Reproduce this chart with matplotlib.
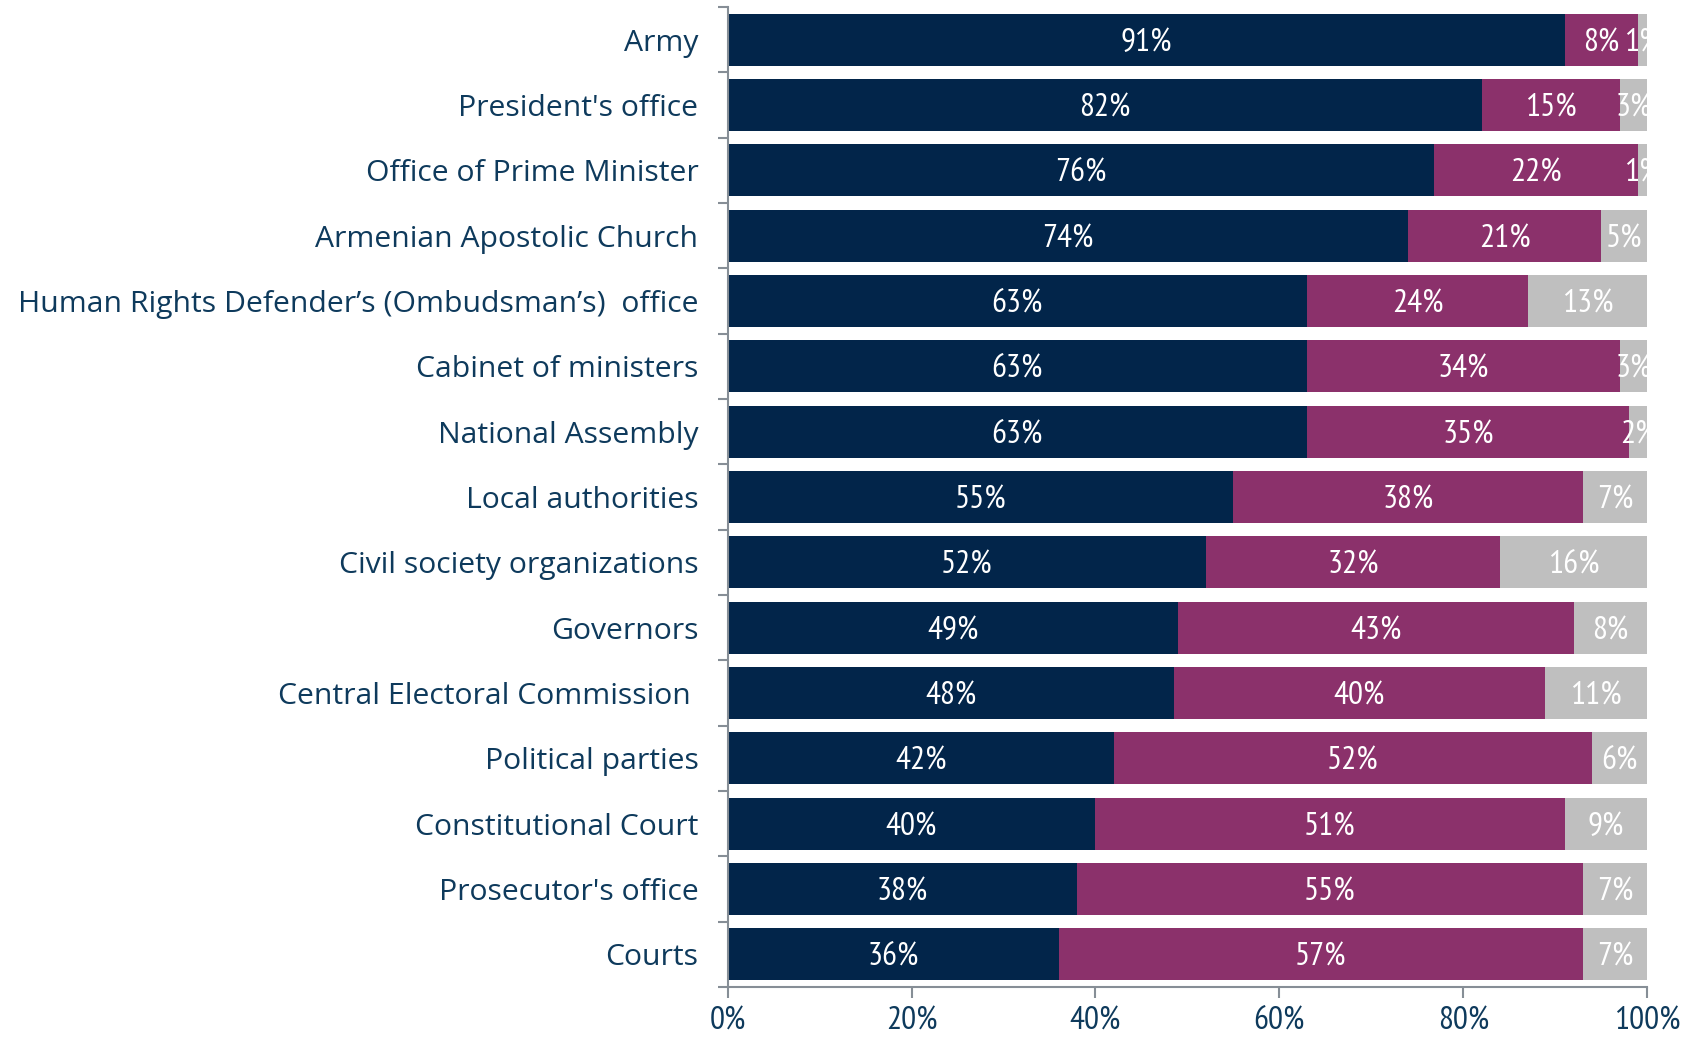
import matplotlib
matplotlib.use("Agg")
import matplotlib.pyplot as plt

# trust levels by institution (share of respondents, %)
institutions = [
    "Army",
    "President's office",
    "Office of Prime Minister",
    "Armenian Apostolic Church",
    "Human Rights Defender\u2019s (Ombudsman\u2019s)  office",
    "Cabinet of ministers",
    "National Assembly",
    "Local authorities",
    "Civil society organizations",
    "Governors",
    "Central Electoral Commission ",
    "Political parties",
    "Constitutional Court",
    "Prosecutor's office",
    "Courts",
]
trust = [91, 82, 76, 74, 63, 63, 63, 55, 52, 49, 48, 42, 40, 38, 36]
distrust = [8, 15, 22, 21, 24, 34, 35, 38, 32, 43, 40, 52, 51, 55, 57]
dont_know = [1, 3, 1, 5, 13, 3, 2, 7, 16, 8, 11, 6, 9, 7, 7]

x_ticks = [0, 20, 40, 60, 80, 100]
x_tick_labels = ["0%", "20%", "40%", "60%", "80%", "100%"]

NAVY = "#02254a"
PLUM = "#8b316b"
GREY = "#bfbfbf"
TEXT = "#0e3a5c"
AXIS = "#868e96"

LABEL_FONT = ["Open Sans", "DejaVu Sans"]
NUM_FONT = ["PT Sans Narrow", "Open Sans", "DejaVu Sans"]

fig = plt.figure(figsize=(17, 10.43), dpi=100)
ax = fig.add_axes([0.428, 0.0537, 0.541, 0.9396])

ypos = list(range(len(institutions)))
series = [trust, distrust, dont_know]
colors = [NAVY, PLUM, GREY]

# 100% stacked: normalise each row by its total
totals = [a + b + c for a, b, c in zip(trust, distrust, dont_know)]
left = [0.0] * len(institutions)
for vals, col in zip(series, colors):
    widths = [v / t * 100 for v, t in zip(vals, totals)]
    ax.barh(ypos, widths, left=left, height=0.8, color=col, edgecolor="none")
    for y, l, w, v in zip(ypos, left, widths, vals):
        ax.text(l + w / 2, y, f"{v}%", ha="center", va="center_baseline",
                color="white", fontsize=24, family=NUM_FONT)
    left = [l + w for l, w in zip(left, widths)]

ax.set_xlim(0, 100)
ax.set_ylim(len(institutions) - 0.5, -0.5)

ax.set_xticks(x_ticks)
ax.set_xticklabels(x_tick_labels, fontsize=24, color=TEXT, family=NUM_FONT)

# tick marks between categories, labels at category centres
ax.set_yticks([i - 0.5 for i in range(len(institutions) + 1)])
ax.set_yticklabels([])
ax.set_yticks(ypos, minor=True)
ax.set_yticklabels(institutions, minor=True, fontsize=21.7, color=TEXT,
                   family=LABEL_FONT)
ax.tick_params(axis="y", which="minor", length=0, pad=21)
ax.tick_params(axis="y", which="major", length=7, width=1.5, color=AXIS)
ax.tick_params(axis="x", length=8, width=1.5, color=AXIS, pad=6)

for s in ["top", "right"]:
    ax.spines[s].set_visible(False)
for s in ["left", "bottom"]:
    ax.spines[s].set_color(AXIS)
    ax.spines[s].set_linewidth(1.5)

fig.savefig("out.png", dpi=100)
